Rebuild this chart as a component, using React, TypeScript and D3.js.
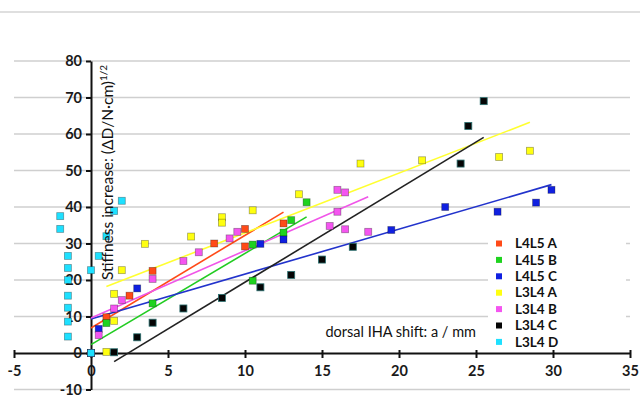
import * as d3 from "d3";
import { useRef, useEffect } from "react";

// series, in legend order
const seriesNames = ["L4L5 A", "L4L5 B", "L4L5 C", "L3L4 A", "L3L4 B", "L3L4 C", "L3L4 D"];
const seriesColors = ["#ff4a18", "#1fd31f", "#1020e0", "#ffff10", "#f455f0", "#050505", "#1ee0ff"];
const lineColors = ["#ff4a18", "#22cc22", "#2233cc", "#ffff30", "#f055e8", "#222222", null];

const l4l5aX = [0, 1.0, 2.5, 4.0, 8.0, 10.0, 10.0, 12.5];
const l4l5aY = [0, 9.8, 15.7, 22.5, 30.0, 34.0, 29.2, 35.5];

const l4l5bX = [0, 1.0, 4.0, 10.5, 10.5, 12.5, 13.0, 14.0];
const l4l5bY = [0, 8.2, 13.6, 19.8, 29.7, 33.0, 36.4, 41.3];

const l4l5cX = [0, 0.5, 3.0, 11.0, 12.5, 19.5, 23.0, 26.4, 28.9, 29.9];
const l4l5cY = [0, 6.6, 17.7, 29.9, 31.1, 33.7, 40.0, 38.7, 41.2, 44.7];

const l3l4aX = [1.0, 1.5, 1.5, 2.0, 3.5, 6.5, 8.5, 8.5, 10.5, 13.5, 17.5, 21.5, 26.5, 28.5];
const l3l4aY = [0.3, 8.8, 16.2, 22.7, 29.9, 31.9, 37.2, 35.7, 39.1, 43.5, 51.9, 52.8, 53.7, 55.4];

const l3l4bX = [0, 0.5, 1.5, 2.0, 4.0, 6.0, 7.0, 9.0, 9.5, 15.5, 16.0, 16.0, 16.5, 16.5, 18.0];
const l3l4bY = [0, 4.9, 12.2, 14.5, 20.3, 25.2, 27.6, 31.4, 33.2, 34.8, 44.7, 38.7, 44.0, 33.9, 33.2];

const l3l4cX = [1.5, 3.0, 4.0, 6.0, 8.5, 11.0, 13.0, 15.0, 17.0, 24.0, 24.5, 25.5];
const l3l4cY = [0.2, 4.3, 8.3, 12.2, 15.1, 18.0, 21.4, 25.6, 29.1, 51.9, 62.2, 69.0];

const l3l4dX = [-2.0, -2.0, -1.5, -1.5, -1.5, -1.5, -1.5, -1.5, -1.5, 0, 0, 0.5, 1.0, 1.5, 2.0];
const l3l4dY = [37.5, 34.0, 26.6, 23.3, 20.0, 15.7, 12.4, 8.6, 4.5, 0, 22.7, 26.6, 32.0, 38.9, 41.7];

const seriesX = [l4l5aX, l4l5bX, l4l5cX, l3l4aX, l3l4bX, l3l4cX, l3l4dX];
const seriesY = [l4l5aY, l4l5bY, l4l5cY, l3l4aY, l3l4bY, l3l4cY, l3l4dY];

const xTicks = [-5, 0, 5, 10, 15, 20, 25, 30, 35];
const yTicks = [-10, 0, 10, 20, 30, 40, 50, 60, 70, 80];

// least squares trend line
function linearFit(xs, ys) {
    const mx = d3.mean(xs), my = d3.mean(ys);
    const sxy = d3.sum(xs, (x, i) => (x - mx) * (ys[i] - my));
    const sxx = d3.sum(xs, x => (x - mx) * (x - mx));
    const slope = sxy / sxx;
    return { slope, intercept: my - slope * mx };
}

export default function App() {
    const ref = useRef(null);
    const width = 640;
    const height = 413;
    const font = "Lato, 'Open Sans', sans-serif";

    useEffect(() => {
        const svg = d3.select(ref.current);
        svg.selectAll("*").remove();

        const x = d3.scaleLinear().domain([-5, 35]).range([14, 630]);
        const y = d3.scaleLinear().domain([-10, 80]).range([389.5, 61]);

        svg.append("rect").attr("width", width).attr("height", height).attr("fill", "#fff");

        // frame line on top
        svg.append("line")
            .attr("x1", 0).attr("x2", width).attr("y1", 12).attr("y2", 12)
            .attr("stroke", "#d4d4d4").attr("stroke-width", 1.5);

        // gridlines
        svg.append("g")
            .selectAll("line")
            .data(yTicks.filter(t => t !== 0))
            .join("line")
                .attr("x1", x(-5)).attr("x2", x(35))
                .attr("y1", d => y(d)).attr("y2", d => y(d))
                .attr("stroke", "#cfcfcf").attr("stroke-width", 1.5);

        // axes
        const xAxis = svg.append("g")
            .attr("transform", `translate(0,${y(0)})`)
            .call(d3.axisBottom(x).tickValues(xTicks).tickFormat(d => String(d))
                .tickSize(5).tickSizeOuter(0).tickPadding(8));
        xAxis.select(".domain").attr("stroke", "#111").attr("stroke-width", 2);
        xAxis.selectAll(".tick line").attr("stroke", "#111").attr("stroke-width", 2).attr("y1", -3);
        xAxis.selectAll(".tick text")
            .attr("font-family", font).attr("font-size", 14.5).attr("font-weight", "bold").attr("fill", "#1a1a1a");

        const yAxis = svg.append("g")
            .attr("transform", `translate(${x(0)},0)`)
            .call(d3.axisLeft(y).tickValues(yTicks).tickFormat(d => String(d))
                .tickSize(5).tickSizeOuter(0).tickPadding(4));
        yAxis.select(".domain").attr("stroke", "#111").attr("stroke-width", 2);
        yAxis.selectAll(".tick line").attr("stroke", "#111").attr("stroke-width", 2);
        yAxis.selectAll(".tick text")
            .attr("font-family", font).attr("font-size", 14.5).attr("font-weight", "bold").attr("fill", "#1a1a1a");

        // trend lines
        seriesX.forEach((xs, i) => {
            if (!lineColors[i]) return;
            const fit = linearFit(xs, seriesY[i]);
            const [x0, x1] = d3.extent(xs);
            svg.append("line")
                .attr("x1", x(x0)).attr("y1", y(fit.intercept + fit.slope * x0))
                .attr("x2", x(x1)).attr("y2", y(fit.intercept + fit.slope * x1))
                .attr("stroke", lineColors[i]).attr("stroke-width", 1.6);
        });

        // points
        const size = 7;
        seriesX.forEach((xs, i) => {
            svg.append("g")
                .selectAll("rect")
                .data(xs.map((v, j) => [v, seriesY[i][j]]))
                .join("rect")
                    .attr("x", d => x(d[0]) - size / 2)
                    .attr("y", d => y(d[1]) - size / 2)
                    .attr("width", size).attr("height", size)
                    .attr("fill", seriesColors[i])
                    .attr("stroke", i === 5 ? "#2a7070" : "rgba(0,0,0,0.35)")
                    .attr("stroke-width", 0.8);
        });

        // axis titles
        const yTitle = svg.append("text")
            .attr("transform", "rotate(-90)")
            .attr("x", -280).attr("y", 113)
            .attr("font-family", font).attr("font-size", 15.5).attr("fill", "#111");
        yTitle.append("tspan").text("Stiffness increase: (ΔD/N·cm)");
        yTitle.append("tspan").attr("dy", -6).attr("font-size", 10).text("1/2");

        svg.append("text")
            .attr("x", 476).attr("y", 337)
            .attr("text-anchor", "end")
            .attr("font-family", font).attr("font-size", 14.5).attr("fill", "#111")
            .text("dorsal IHA shift: a / mm");

        // legend
        const legend = svg.append("g");
        legend.append("rect")
            .attr("x", 488).attr("y", 233).attr("width", 138).attr("height", 116)
            .attr("fill", "#fff");
        const rows = legend.selectAll("g")
            .data(seriesNames)
            .join("g")
                .attr("transform", (d, i) => `translate(499,${243.5 + i * 16.4})`);
        rows.append("rect")
            .attr("x", -3).attr("y", -3).attr("width", 6).attr("height", 6)
            .attr("fill", (d, i) => seriesColors[i]);
        rows.append("text")
            .attr("x", 16).attr("dy", "0.35em")
            .attr("font-family", font).attr("font-size", 13.5).attr("font-weight", "bold").attr("fill", "#111")
            .text(d => d);
    }, []);

    return (
        <svg ref={ref} width={width} height={height}
            style={{ position: "absolute", left: 0, top: 0 }}></svg>
    );
}
